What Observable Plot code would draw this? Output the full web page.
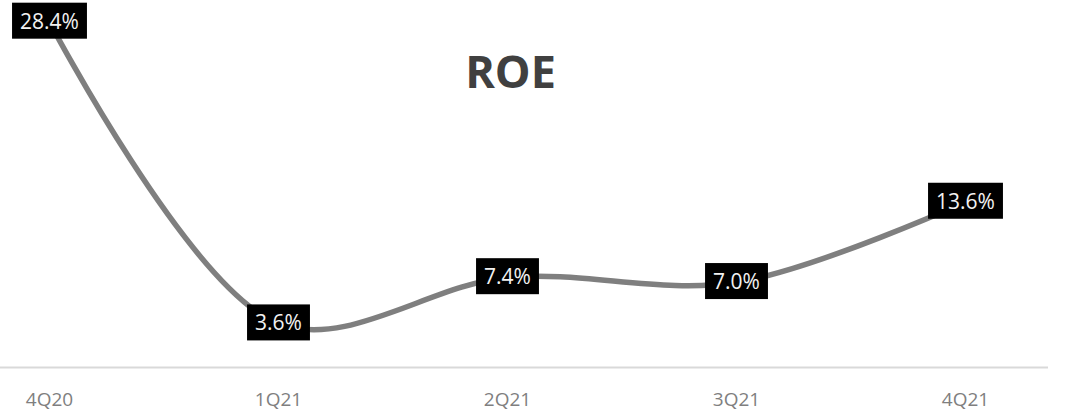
<!DOCTYPE html>
<html>
<head>
<meta charset="utf-8">
<script src="https://cdn.jsdelivr.net/npm/d3@7"></script>
<script src="https://cdn.jsdelivr.net/npm/@observablehq/plot@0.6"></script>
<style>
  html, body { margin: 0; padding: 0; background: #fff; }
  svg { display: block; }
</style>
</head>
<body>
<div id="chart"></div>
<script>
const quarters = ["4Q20", "1Q21", "2Q21", "3Q21", "4Q21"];
const roe = [28.4, 3.6, 7.4, 7.0, 13.6];
const roeLabels = ["28.4%", "3.6%", "7.4%", "7.0%", "13.6%"];
const title = "ROE";

const data = quarters.map((q, i) => ({q, v: roe[i], label: roeLabels[i]}));

const chart = Plot.plot({
  width: 1076,
  height: 413,
  marginLeft: 0,
  marginRight: 28,
  marginTop: 2,
  marginBottom: 46,
  style: {fontFamily: "'Open Sans', sans-serif", background: "#fff"},
  x: {type: "point", domain: quarters, range: [49, 965], padding: 0, label: null},
  y: {domain: [0, 30], axis: null},
  marks: [
    Plot.ruleY([0], {stroke: "#d9d9d9", strokeWidth: 2}),
    Plot.axisX({tickSize: 0, tickPadding: 25, fontSize: 19, fill: "#7f7f7f", label: null}),
    Plot.line(data, {x: "q", y: "v", stroke: "#7f7f7f", strokeWidth: 5.5, curve: "catmull-rom"}),
    Plot.text(data, {x: "q", y: "v", text: "label", fill: "#f2f2f2", fontSize: 21}),
    Plot.text([title], {frameAnchor: "top", dx: -14, dy: 54, fontSize: 45, fontWeight: "bold", fill: "#404040"})
  ]
});
document.getElementById("chart").appendChild(chart);

// black boxes behind value labels
chart.querySelectorAll("text").forEach(t => {
  if (!roeLabels.includes(t.textContent)) return;
  const b = t.getBBox();
  const r = document.createElementNS("http://www.w3.org/2000/svg", "rect");
  const padX = 8, h = 36;
  const cy = b.y + b.height / 2;
  r.setAttribute("x", b.x - padX);
  r.setAttribute("y", cy - h / 2);
  r.setAttribute("width", b.width + 2 * padX);
  r.setAttribute("height", h);
  r.setAttribute("fill", "#000");
  const tr = t.getAttribute("transform");
  if (tr) r.setAttribute("transform", tr);
  t.parentNode.insertBefore(r, t);
});
</script>
</body>
</html>
